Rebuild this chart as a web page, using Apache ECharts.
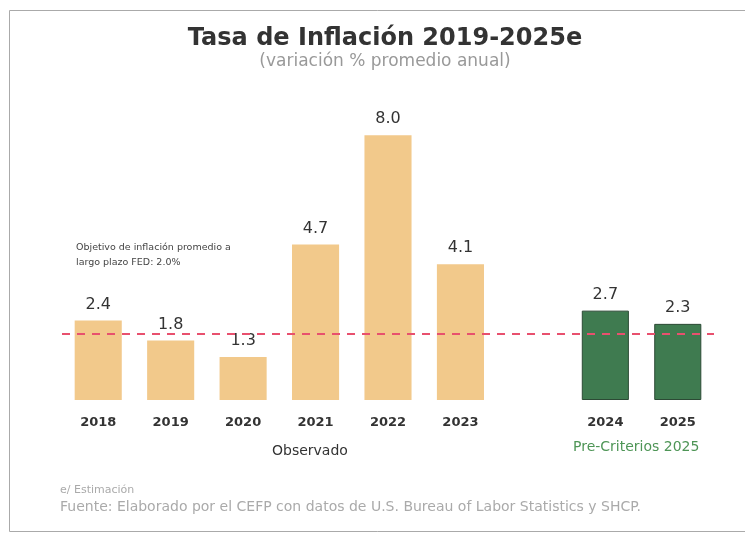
<!DOCTYPE html>
<html><head><meta charset="utf-8">
<script src="https://cdn.jsdelivr.net/npm/echarts@6/dist/echarts.min.js"></script>
<style>html,body{margin:0;padding:0;background:#fff}#c{width:745px;height:534px}</style>
</head><body><div id="c"></div>
<script>
var categories = ['2018','2019','2020','2021','2022','2023','','2024','2025'];
var observedValues = [2.4, 1.8, 1.3, 4.7, 8.0, 4.1, '-', '-', '-'];
var projectedValues = ['-', '-', '-', '-', '-', '-', '-', 2.7, 2.3];
var fedTarget = 2.0;

var chart = echarts.init(document.getElementById('c'));
var font = '"DejaVu Sans", Lato, sans-serif';
var valLabel = {show:true, position:'top', distance:8, fontFamily:font, fontSize:16, color:'#333',
  formatter:function(p){return Number(p.value).toFixed(1);}};
chart.setOption({
  animation:false,
  backgroundColor:'#fff',
  title:{text:'Tasa de Inflación 2019-2025e', subtext:'(variación % promedio anual)', left:380, textAlign:'center', top:22,
    itemGap:2,
    textStyle:{fontFamily:font, fontSize:24, fontWeight:'bold', color:'#333'},
    subtextStyle:{fontFamily:font, fontSize:17, color:'#999'}},
  grid:{left:62, right:31, top:69, bottom:134},
  xAxis:{type:'category', data:categories, axisLine:{show:false}, axisTick:{show:false},
    axisLabel:{fontFamily:font, fontSize:13, fontWeight:'bold', color:'#333', margin:16}},
  yAxis:{type:'value', min:0, max:10, show:false, splitLine:{show:false}},
  series:[
    {type:'bar', data:observedValues, barWidth:'65%', barGap:'-100%', itemStyle:{color:'#F2C98B'}, label:valLabel,
      markLine:{symbol:'none', silent:true, label:{show:false},
        lineStyle:{color:'#E8506E', type:[8,7], width:2},
        data:[{yAxis:fedTarget}]}},
    {type:'bar', data:projectedValues, barWidth:'65%', itemStyle:{color:'#3F7B50', borderColor:'#2c4a35', borderWidth:1}, label:valLabel}
  ],
  graphic:[
    {type:'rect', shape:{x:9.5, y:10.5, width:760, height:521}, style:{fill:'none', stroke:'#aaa', lineWidth:1}, silent:true},
    {type:'text', left:76, top:240, style:{text:'Objetivo de inflación promedio a\nlargo plazo FED: 2.0%', fontFamily:font, fontSize:9.5, lineHeight:15, fill:'#444'}},
    {type:'text', left:272, top:444, style:{text:'Observado', fontFamily:font, fontSize:14, fill:'#333'}},
    {type:'text', left:573, top:440, style:{text:'Pre-Criterios 2025', fontFamily:font, fontSize:14, fill:'#4E9556'}},
    {type:'text', left:60, top:485, style:{text:'e/ Estimación', fontFamily:font, fontSize:11, fill:'#aaa'}},
    {type:'text', left:60, top:500, style:{text:'Fuente: Elaborado por el CEFP con datos de U.S. Bureau of Labor Statistics y SHCP.', fontFamily:font, fontSize:14, fill:'#aaa'}}
  ]
});
</script></body></html>
